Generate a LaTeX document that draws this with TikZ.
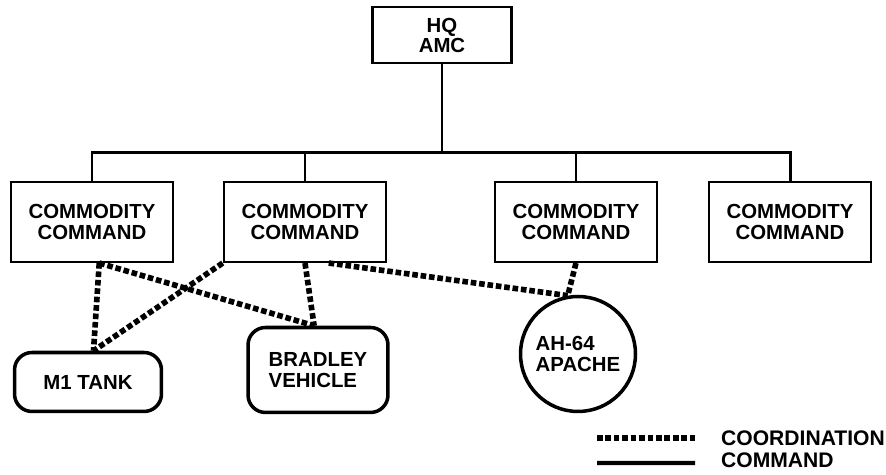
\documentclass[tikz,border=0pt]{standalone}
\usepackage{fontspec}
\setmainfont{Liberation Sans}
\begin{document}
\begin{tikzpicture}[x=0.02cm,y=-0.02cm,
    orgBox/.style={rectangle,draw=black,line width=1.2pt,minimum width=3.25cm,minimum height=1.6cm,align=center,font=\fontsize{11.6}{11.6}\selectfont\bfseries},
    hqBox/.style={rectangle,draw=black,line width=1.2pt,minimum width=2.78cm,minimum height=1.12cm,align=center,font=\fontsize{11.6}{9.8}\selectfont\bfseries},
    prodBox/.style={rectangle,rounded corners=0.35cm,draw=black,line width=2pt,align=left,font=\fontsize{11.6}{12}\selectfont\bfseries},
    prodCircle/.style={circle,draw=black,line width=2pt,minimum size=2.3cm,inner sep=0pt,align=left,font=\fontsize{11.6}{12.4}\selectfont\bfseries},
    coordLine/.style={line width=3.2pt,dash pattern=on 3.2pt off 1.6pt},
    cmdLine/.style={line width=1.7pt},
    legText/.style={anchor=west,font=\fontsize{12}{12}\selectfont\bfseries},
]
\useasboundingbox (0,0) rectangle (886,475);
\node[hqBox] (hq) at (442,35) {HQ\\AMC};
\node[orgBox] (cmd1) at (92,222) {COMMODITY\\COMMAND};
\node[orgBox] (cmd2) at (305,222) {COMMODITY\\COMMAND};
\node[orgBox] (cmd3) at (576,222) {COMMODITY\\COMMAND};
\node[orgBox] (cmd4) at (790,222) {COMMODITY\\COMMAND};
\node[prodBox,minimum width=2.94cm,minimum height=1.18cm] (tank) at (88,382) {M1 TANK};
\node[prodBox,minimum width=2.8cm,minimum height=1.7cm] (bradley) at (318,370) {BRADLEY\\VEHICLE};
\node[prodCircle] (apache) at (578,354) {AH-64\\APACHE};
\coordinate (barMid) at (442,153);
% command lines
\draw[cmdLine] (hq.south) -- (barMid);
\draw[cmdLine] (cmd1.north) |- (barMid);
\draw[cmdLine] (cmd2.north) |- (barMid);
\draw[cmdLine] (cmd3.north) |- (barMid);
\draw[cmdLine] (cmd4.north) |- (barMid);
% coordination lines
\draw[coordLine] (cmd1.280) -- (tank.80);
\draw[coordLine] (cmd1.280) -- (bradley.95);
\draw[coordLine] (cmd2.south west) -- (tank.80);
\draw[coordLine] (cmd2.south) -- (bradley.95);
\draw[coordLine] (cmd2.300) -- (apache.100);
\draw[coordLine] (cmd3.south) -- (apache.100);
% legend
\node[legText] (legCoord) at (715,438) {COORDINATION};
\node[legText] (legCmd) at (715,460) {COMMAND};
\coordinate (legCoordS) at (597,438);
\coordinate (legCmdS) at (597,463);
\draw[coordLine] (legCoordS) -- ([xshift=-0.4cm]legCoord.west);
\draw[line width=2.3pt] (legCmdS) -- ([xshift=-0.4cm,yshift=-0.06cm]legCmd.west);
\end{tikzpicture}
\end{document}
